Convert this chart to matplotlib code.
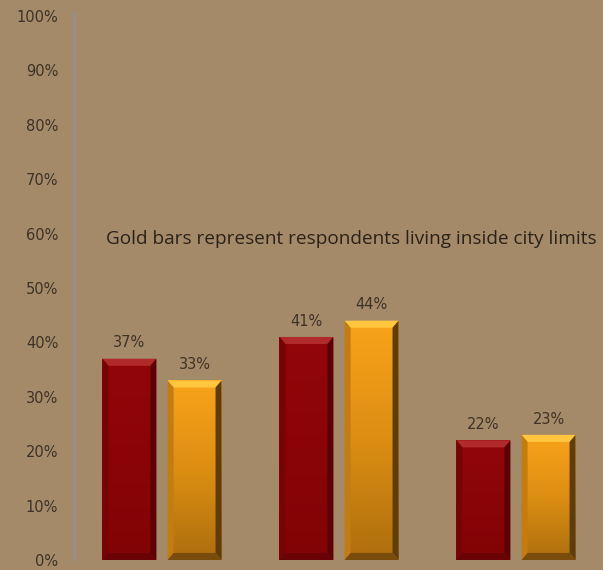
import numpy as np
import matplotlib
matplotlib.use("Agg")
import matplotlib.pyplot as plt
from matplotlib.patches import Polygon
from matplotlib.colors import LinearSegmentedColormap

# survey shares per group (percent)
outside_city = [37, 41, 22]   # dark red bars
inside_city = [33, 44, 23]    # gold bars
y_ticks = list(range(0, 101, 10))
note = "Gold bars represent respondents living inside city limits"

BG = "#a48a69"
TEXT = "#3d3226"

fig = plt.figure(figsize=(6.03, 5.70), dpi=100, facecolor=BG)
ax = fig.add_axes([73.5 / 603, 10 / 570, 531 / 603, 544 / 570])
ax.set_facecolor(BG)

x = np.arange(len(outside_city))
width = 0.305
offset = 0.184

red_bars = ax.bar(x - offset, outside_city, width, color="#8e0508", zorder=2)
gold_bars = ax.bar(x + offset, inside_city, width, color="#f0a01a", zorder=2)

red_cmap = LinearSegmentedColormap.from_list("r", ["#820305", "#92060a"])
gold_cmap = LinearSegmentedColormap.from_list("g", ["#ad6e0e", "#dc8e12", "#f9a31a"])


def bevel(bar, cmap, top_col, right_col, left_col, bottom_col):
    x0, y0 = bar.get_x(), bar.get_y()
    w, h = bar.get_width(), bar.get_height()
    grad = np.linspace(0, 1, 256).reshape(-1, 1)
    img = ax.imshow(grad, cmap=cmap, aspect="auto", origin="lower",
                    extent=(x0, x0 + w, y0, y0 + h), zorder=2.1)
    img.set_clip_path(bar)
    bx, by = 0.034, 1.3
    sides = [
        ([(x0, y0 + h), (x0 + w, y0 + h), (x0 + w - bx, y0 + h - by), (x0 + bx, y0 + h - by)], top_col),
        ([(x0 + w, y0), (x0 + w, y0 + h), (x0 + w - bx, y0 + h - by), (x0 + w - bx, y0 + by)], right_col),
        ([(x0, y0), (x0, y0 + h), (x0 + bx, y0 + h - by), (x0 + bx, y0 + by)], left_col),
        ([(x0, y0), (x0 + w, y0), (x0 + w - bx, y0 + by), (x0 + bx, y0 + by)], bottom_col),
    ]
    for pts, col in sides:
        ax.add_patch(Polygon(pts, closed=True, facecolor=col, edgecolor="none", zorder=2.2))


for b in red_bars:
    bevel(b, red_cmap, "#b12a2a", "#5c0204", "#760406", "#6a0305")
for b in gold_bars:
    bevel(b, gold_cmap, "#ffc63e", "#5e3c0c", "#c27c10", "#7a4c0c")

for bars in (red_bars, gold_bars):
    for b in bars:
        ax.annotate(f"{b.get_height():.0f}%",
                    (b.get_x() + b.get_width() / 2, b.get_height()),
                    xytext=(0, 6), textcoords="offset points",
                    ha="center", va="bottom", fontsize=10.5,
                    family="DejaVu Sans", color=TEXT, zorder=3)

ax.text(0.061, 0.59, note, transform=ax.transAxes, fontsize=13.7,
        family="Open Sans", color="#2a2218", va="center")

ax.set_xlim(-0.5, len(outside_city) - 0.5)
ax.set_ylim(0, 100)
ax.set_yticks(y_ticks)
ax.set_yticklabels([f"{t}%" for t in y_ticks], family="DejaVu Sans",
                   fontsize=10.5, color=TEXT)
ax.tick_params(axis="y", length=0, pad=11)
ax.set_xticks([])

for side in ("top", "right", "bottom"):
    ax.spines[side].set_visible(False)
ax.spines["left"].set_color("#959087")
ax.spines["left"].set_linewidth(2)
ax.spines["left"].set_bounds(0, 100.6)
ax.spines["left"].set_clip_on(False)

fig.savefig("out.png", dpi=100, facecolor=BG)
